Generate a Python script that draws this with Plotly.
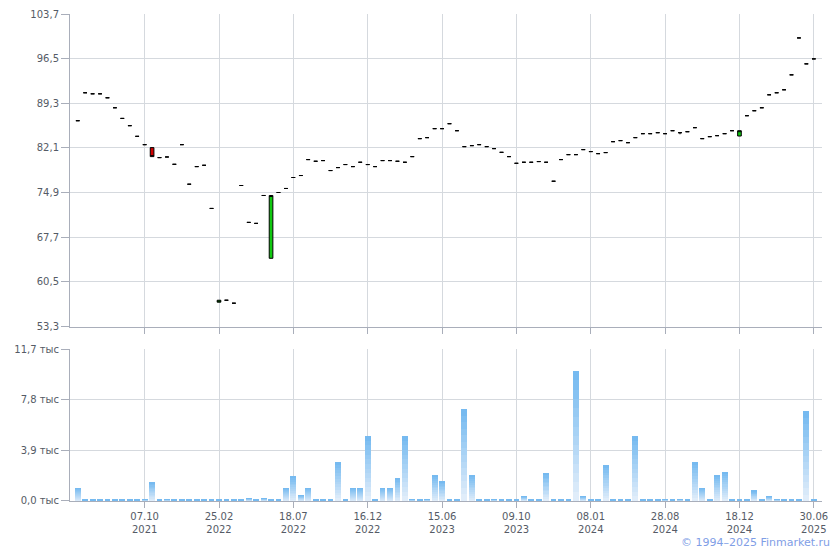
import plotly.graph_objects as go

# ---- data ----
idx = list(range(100))

close = [86.49, 91.00, 90.83, 90.83, 90.19, 88.58, 86.86, 85.69, 83.97, 82.63,
         80.70, 80.54, 80.64, 79.46, 82.63, 76.25, 79.09, 79.30, 72.34, 57.54,
         57.54, 57.06, 76.04, 70.09, 69.93, 74.43, 74.43, 74.91, 75.56, 77.33,
         77.65, 80.22, 79.95, 80.06, 78.45, 78.93, 79.42, 79.09, 79.79, 79.42,
         79.09, 80.06, 80.06, 79.95, 79.79, 80.70, 83.60, 83.76, 85.21, 85.21,
         86.01, 84.88, 82.31, 82.47, 82.63, 82.31, 81.99, 81.39, 80.70, 79.62,
         79.79, 79.79, 79.90, 79.79, 76.73, 80.22, 81.02, 81.02, 81.83, 81.51,
         81.18, 81.35, 83.11, 83.28, 82.95, 83.76, 84.40, 84.40, 84.56, 84.40,
         84.88, 84.56, 84.72, 85.37, 83.60, 83.92, 84.08, 84.40, 84.88, 84.88,
         87.30, 88.10, 88.58, 90.67, 91.00, 91.48, 93.89, 99.84, 95.66, 96.46]

open_ = [86.49, 91.00, 90.83, 90.83, 90.19, 88.58, 86.86, 85.69, 83.97, 82.63,
         82.15, 80.54, 80.64, 79.46, 82.63, 76.25, 79.09, 79.30, 72.34, 57.22,
         57.54, 57.06, 76.04, 70.09, 69.93, 74.43, 64.30, 74.91, 75.56, 77.33,
         77.65, 80.22, 79.95, 80.06, 78.45, 78.93, 79.42, 79.09, 79.79, 79.42,
         79.09, 80.06, 80.06, 79.95, 79.79, 80.70, 83.60, 83.76, 85.21, 85.21,
         86.01, 84.88, 82.31, 82.47, 82.63, 82.31, 81.99, 81.39, 80.70, 79.62,
         79.79, 79.79, 79.90, 79.79, 76.73, 80.22, 81.02, 81.02, 81.83, 81.51,
         81.18, 81.35, 83.11, 83.28, 82.95, 83.76, 84.40, 84.40, 84.56, 84.40,
         84.88, 84.56, 84.72, 85.37, 83.60, 83.92, 84.08, 84.40, 84.88, 84.02,
         87.30, 88.10, 88.58, 90.67, 91.00, 91.48, 93.89, 99.84, 95.66, 96.46]

high = [max(o, c) for o, c in zip(open_, close)]
low = [min(o, c) for o, c in zip(open_, close)]
low[81] = 84.30

volume = [1.00, 0.08, 0.08, 0.08, 0.08, 0.08, 0.08, 0.08, 0.08, 0.15,
          1.45, 0.08, 0.15, 0.08, 0.08, 0.08, 0.08, 0.08, 0.08, 0.08,
          0.08, 0.08, 0.08, 0.23, 0.08, 0.23, 0.08, 0.08, 1.00, 1.92,
          0.46, 1.00, 0.08, 0.08, 0.08, 3.00, 0.08, 1.00, 1.00, 5.00,
          0.08, 1.00, 1.00, 1.77, 5.00, 0.15, 0.08, 0.15, 2.00, 1.54,
          0.08, 0.08, 7.08, 2.00, 0.08, 0.08, 0.15, 0.08, 0.08, 0.08,
          0.38, 0.08, 0.08, 2.15, 0.08, 0.08, 0.08, 10.00, 0.38, 0.08,
          0.08, 2.77, 0.08, 0.08, 0.08, 5.00, 0.08, 0.08, 0.08, 0.15,
          0.08, 0.15, 0.08, 3.00, 1.00, 0.08, 2.00, 2.23, 0.08, 0.08,
          0.08, 0.77, 0.08, 0.38, 0.15, 0.08, 0.08, 0.08, 6.92, 0.08]

x_tick_pos = [9, 19, 29, 39, 49, 59, 69, 79, 89, 99]
x_tick_labels = ["07.10<br>2021", "25.02<br>2022", "18.07<br>2022", "16.12<br>2022",
                 "15.06<br>2023", "09.10<br>2023", "08.01<br>2024", "28.08<br>2024",
                 "18.12<br>2024", "30.06<br>2025"]

price_ticks = [53.3, 60.5, 67.7, 74.9, 82.1, 89.3, 96.5, 103.7]
price_tick_labels = ["53,3", "60,5", "67,7", "74,9", "82,1", "89,3", "96,5", "103,7"]

vol_ticks = [0.0, 3.9, 7.8, 11.7]
vol_tick_labels = ["0,0 тыс", "3,9 тыс", "7,8 тыс", "11,7 тыс"]

# ---- style ----
AXIS = "#a9aeba"
GRID = "#d5d9de"
TXT = "#555b66"
FONT = "DejaVu Sans"
FS = 10

fig = go.Figure()

fig.add_trace(go.Candlestick(
    x=idx, open=open_, high=high, low=low, close=close,
    increasing=dict(line=dict(color="#000000", width=1), fillcolor="#10c810"),
    decreasing=dict(line=dict(color="#000000", width=1), fillcolor="#d00000"),
    whiskerwidth=0, hoverinfo="skip", showlegend=False,
    xaxis="x", yaxis="y",
))

# gradient volume bars: stacked slices, light at bottom, darker at top
N = 14
c0 = (0xe4, 0xef, 0xfa)
c1 = (0x72, 0xb8, 0xf0)
for k in range(N):
    t = (k + 0.5) / N
    col = "rgb(%d,%d,%d)" % tuple(round(a + (b - a) * t) for a, b in zip(c0, c1))
    fig.add_trace(go.Bar(
        x=idx, y=[v / N for v in volume],
        marker=dict(color=col, line=dict(width=0)),
        width=0.78, hoverinfo="skip", showlegend=False,
        xaxis="x2", yaxis="y2",
    ))

xcommon = dict(
    type="linear", range=[-1.04, 100.1],
    tickmode="array", tickvals=x_tick_pos,
    showgrid=True, gridcolor=GRID, gridwidth=1,
    showline=True, linecolor=AXIS, linewidth=1,
    ticks="outside", ticklen=6, tickcolor=AXIS,
    zeroline=False, fixedrange=True, automargin=False,
)
ycommon = dict(
    tickmode="array", showgrid=True, gridcolor=GRID, showline=True,
    linecolor=AXIS, ticks="outside", ticklen=8, tickcolor=AXIS,
    zeroline=False, automargin=False, fixedrange=True,
    tickfont=dict(family=FONT, size=FS, color=TXT),
)

fig.update_layout(
    width=840, height=550,
    margin=dict(l=62, r=26, t=6, b=57, autoexpand=False),
    paper_bgcolor="white", plot_bgcolor="white",
    font=dict(family=FONT, size=FS, color=TXT),
    barmode="stack", bargap=0,
    showlegend=False,
    xaxis=dict(**xcommon, domain=[0, 1], anchor="y", showticklabels=False,
               rangeslider=dict(visible=False)),
    yaxis=dict(**ycommon, domain=[0.3583, 1], range=[53.3, 103.7],
               tickvals=price_ticks, ticktext=price_tick_labels),
    xaxis2=dict(**xcommon, domain=[0, 1], anchor="y2", ticktext=x_tick_labels,
                tickfont=dict(family=FONT, size=FS, color=TXT)),
    yaxis2=dict(**ycommon, domain=[0, 0.3121], range=[0, 11.7],
                tickvals=vol_ticks, ticktext=vol_tick_labels),
    annotations=[dict(
        text="© 1994–2025 Finmarket.ru", xref="paper", yref="paper",
        x=1.0129, y=-0.0862, xanchor="right", yanchor="middle",
        showarrow=False, font=dict(family=FONT, size=11, color="#7f9ee6"),
    )],
)

fig.write_html("out.html")
